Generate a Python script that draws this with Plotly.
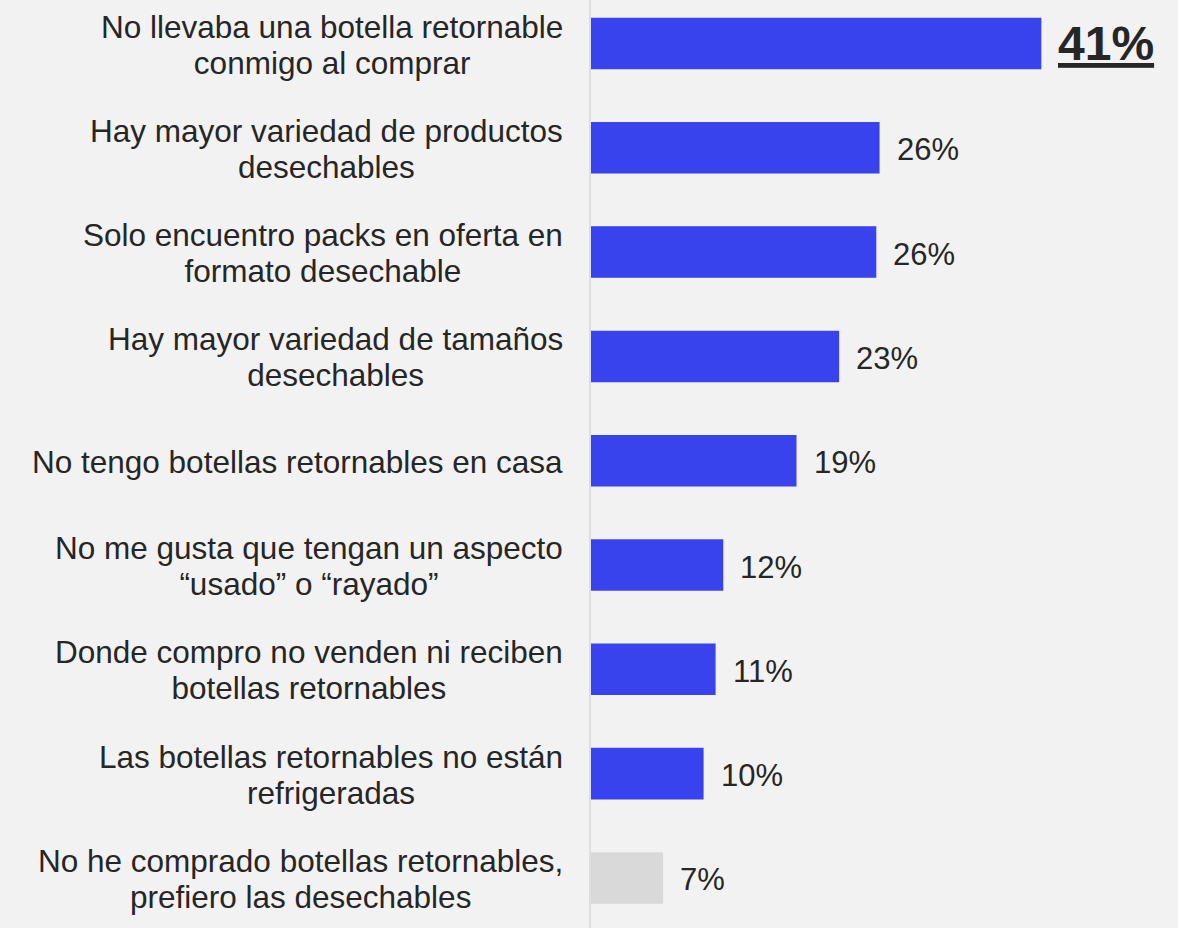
import plotly.graph_objects as go

categories = [
    "No llevaba una botella retornable<br>conmigo al comprar",
    "Hay mayor variedad de productos<br>desechables",
    "Solo encuentro packs en oferta en<br>formato desechable",
    "Hay mayor variedad de tamaños<br>desechables",
    "No tengo botellas retornables en casa",
    "No me gusta que tengan un aspecto<br>“usado” o “rayado”",
    "Donde compro no venden ni reciben<br>botellas retornables",
    "Las botellas retornables no están<br>refrigeradas",
    "No he comprado botellas retornables,<br>prefiero las desechables",
]
values = [41.2, 26.4, 26.1, 22.7, 18.8, 12.1, 11.4, 10.3, 6.6]
value_labels = ["41%", "26%", "26%", "23%", "19%", "12%", "11%", "10%", "7%"]
bar_colors = ["#3843EE"] * 8 + ["#D9D9D9"]

FONT = "Arial, Liberation Sans, sans-serif"
TEXT_COLOR = "#262626"

fig = go.Figure()
fig.add_trace(go.Bar(
    x=values,
    y=categories,
    orientation="h",
    marker=dict(color=bar_colors, line=dict(width=0)),
    hoverinfo="skip",
))

annotations = []
for cat in categories:
    lines = cat.split("<br>")
    txt = "<br>".join(f"<span style='font-size:31.5px'>{ln}</span>" for ln in lines)
    annotations.append(dict(
        x=0, y=cat, xref="x", yref="y",
        text=txt, showarrow=False,
        xanchor="right", yanchor="middle", align="center",
        xshift=-26, yshift=-1,
        font=dict(family=FONT, size=28, color=TEXT_COLOR),
    ))

for i, (cat, v, lab) in enumerate(zip(categories, values, value_labels)):
    if i == 0:
        text = f"<b><u>{lab}</u></b>"
        size = 48
    else:
        text = lab
        size = 31
    annotations.append(dict(
        x=v, y=cat, xref="x", yref="y",
        text=text, showarrow=False,
        xanchor="left", yanchor="middle",
        xshift=15, yshift=-2 if i > 0 else 0,
        font=dict(family=FONT, size=size, color=TEXT_COLOR),
    ))

fig.update_layout(
    width=1178, height=928,
    margin=dict(l=591, r=0, t=0, b=0, pad=0),
    paper_bgcolor="#F2F2F2",
    plot_bgcolor="#F2F2F2",
    bargap=0.506,
    showlegend=False,
    annotations=annotations,
    font=dict(family=FONT, color=TEXT_COLOR),
)
fig.update_xaxes(
    range=[0, 53.7], showgrid=False, zeroline=False,
    showticklabels=False, showline=False, fixedrange=True,
)
fig.update_yaxes(
    type="category",
    range=[8.48, -0.417],
    showgrid=False, zeroline=False, showticklabels=False,
    showline=True, linecolor="#DEDEDE", linewidth=2,
    fixedrange=True,
)

fig.write_html(
    "out.html",
    config={"displayModeBar": False},
    post_script="document.body.style.margin='0';document.body.style.padding='0';"
                "document.body.style.background='#F2F2F2';"
                "document.body.style.overflow='hidden';",
)
